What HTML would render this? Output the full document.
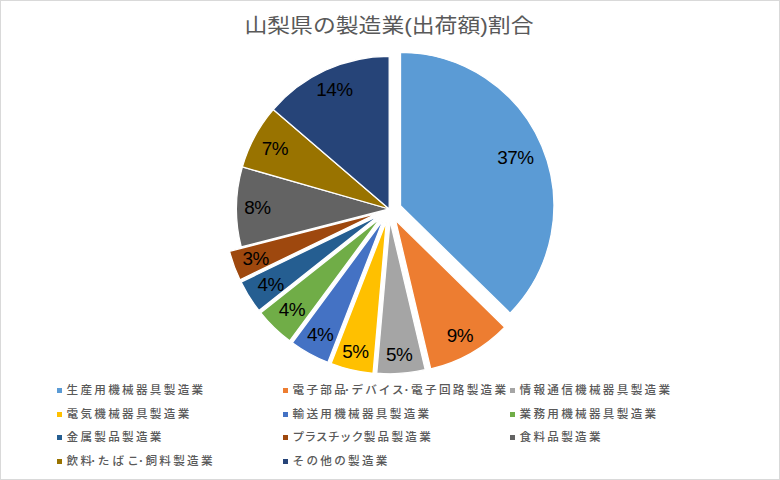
<!DOCTYPE html>
<html><head><meta charset="utf-8"><style>
html,body{margin:0;padding:0;background:#fff;}
#c{position:relative;width:778px;height:478px;border:1px solid #d9d9d9;overflow:hidden;background:#fff;}
#t{position:absolute;left:-1px;top:8px;width:778px;text-align:center;font-family:"Liberation Sans","Noto Sans CJK JP",sans-serif;font-size:20.3px;letter-spacing:0px;transform:scaleX(1.125);transform-origin:389px 0;color:#595959;white-space:nowrap;}
svg{position:absolute;left:-1px;top:-1px;}
svg text{font-family:"Liberation Sans",sans-serif;font-size:18.9px;letter-spacing:-0.5px;fill:#000;text-anchor:middle;dominant-baseline:central;}
.li{position:absolute;height:20px;line-height:20px;white-space:nowrap;font-family:"Liberation Sans","Noto Sans CJK JP",sans-serif;font-size:11.6px;font-weight:500;color:#595959;letter-spacing:2.3px;}
.mk{position:absolute;left:0;top:8px;width:5px;height:5px;}
.lt{position:absolute;left:9.5px;top:0;}
.d{margin-left:-4px;letter-spacing:1.7px;}
.d2{margin-left:-2px;letter-spacing:1.7px;}
.k1{letter-spacing:2.0px;}
.k3{letter-spacing:3.1px;}
.k2{letter-spacing:0.3px;}
</style></head><body><div id="c">
<div id="t">山梨県の製造業(出荷額)割合</div>
<svg width="780" height="480" viewBox="0 0 780 480">
<g stroke="#fff" stroke-width="1.3" stroke-linejoin="round">
<path d="M400.50,205.80L400.50,52.40A153.4,153.4 0 0 1 510.10,313.13Z" fill="#5B9BD5"/>
<path d="M395.59,220.32L504.73,327.19A152.75,152.75 0 0 1 430.73,368.97Z" fill="#ED7D31"/>
<path d="M390.08,221.07L425.22,369.72A152.75,152.75 0 0 1 376.76,373.24Z" fill="#A5A5A5"/>
<path d="M386.37,221.17L373.05,373.34A152.75,152.75 0 0 1 331.13,363.59Z" fill="#FFC000"/>
<path d="M383.17,219.95L327.93,362.36A152.75,152.75 0 0 1 292.31,342.74Z" fill="#4472C4"/>
<path d="M380.51,217.98L289.65,340.77A152.75,152.75 0 0 1 260.80,312.86Z" fill="#70AD47"/>
<path d="M378.61,215.64L258.90,310.52A152.75,152.75 0 0 1 241.09,282.12Z" fill="#255E91"/>
<path d="M377.46,213.30L239.94,279.78A152.75,152.75 0 0 1 229.51,251.28Z" fill="#9E480E"/>
<path d="M389.20,209.00L241.25,246.99A152.75,152.75 0 0 1 242.37,166.90Z" fill="#636363"/>
<path d="M389.20,209.00L242.37,166.90A152.75,152.75 0 0 1 273.22,109.59Z" fill="#997300"/>
<path d="M389.20,209.00L273.22,109.59A152.75,152.75 0 0 1 389.20,56.25Z" fill="#264478"/>
</g>
<g>
<text x="515.5" y="157.6">37%</text>
<text x="459.8" y="335.2">9%</text>
<text x="399.2" y="354.7">5%</text>
<text x="355.3" y="351.1">5%</text>
<text x="320.1" y="334.7">4%</text>
<text x="292" y="309.6">4%</text>
<text x="270.7" y="284.5">4%</text>
<text x="255.6" y="258.4">3%</text>
<text x="257.5" y="207.5">8%</text>
<text x="274.8" y="148.5">7%</text>
<text x="334.3" y="89.9">14%</text>
</g>
</svg>
<div class="li" style="left:56px;top:379.0px"><span class="mk" style="background:#5B9BD5"></span><span class="lt">生産用機械器具製造業</span></div>
<div class="li" style="left:282px;top:379.0px"><span class="mk" style="background:#ED7D31"></span><span class="lt">電子部品<span class=d>･</span><span class=k1>デバイス</span><span class=d2>･</span>電子回路製造業</span></div>
<div class="li" style="left:509px;top:379.0px"><span class="mk" style="background:#A5A5A5"></span><span class="lt">情報通信機械器具製造業</span></div>
<div class="li" style="left:56px;top:403.0px"><span class="mk" style="background:#FFC000"></span><span class="lt">電気機械器具製造業</span></div>
<div class="li" style="left:282px;top:403.0px"><span class="mk" style="background:#4472C4"></span><span class="lt">輸送用機械器具製造業</span></div>
<div class="li" style="left:509px;top:403.0px"><span class="mk" style="background:#70AD47"></span><span class="lt">業務用機械器具製造業</span></div>
<div class="li" style="left:56px;top:426.0px"><span class="mk" style="background:#255E91"></span><span class="lt">金属製品製造業</span></div>
<div class="li" style="left:282px;top:426.0px"><span class="mk" style="background:#9E480E"></span><span class="lt"><span class=k2>プラスチック</span>製品製造業</span></div>
<div class="li" style="left:509px;top:426.0px"><span class="mk" style="background:#636363"></span><span class="lt">食料品製造業</span></div>
<div class="li" style="left:56px;top:450.0px"><span class="mk" style="background:#997300"></span><span class="lt">飲料<span class=d>･</span><span class=k3>たばこ</span><span class=d>･</span>飼料製造業</span></div>
<div class="li" style="left:282px;top:450.0px"><span class="mk" style="background:#264478"></span><span class="lt">その他の製造業</span></div>
</div></body></html>
